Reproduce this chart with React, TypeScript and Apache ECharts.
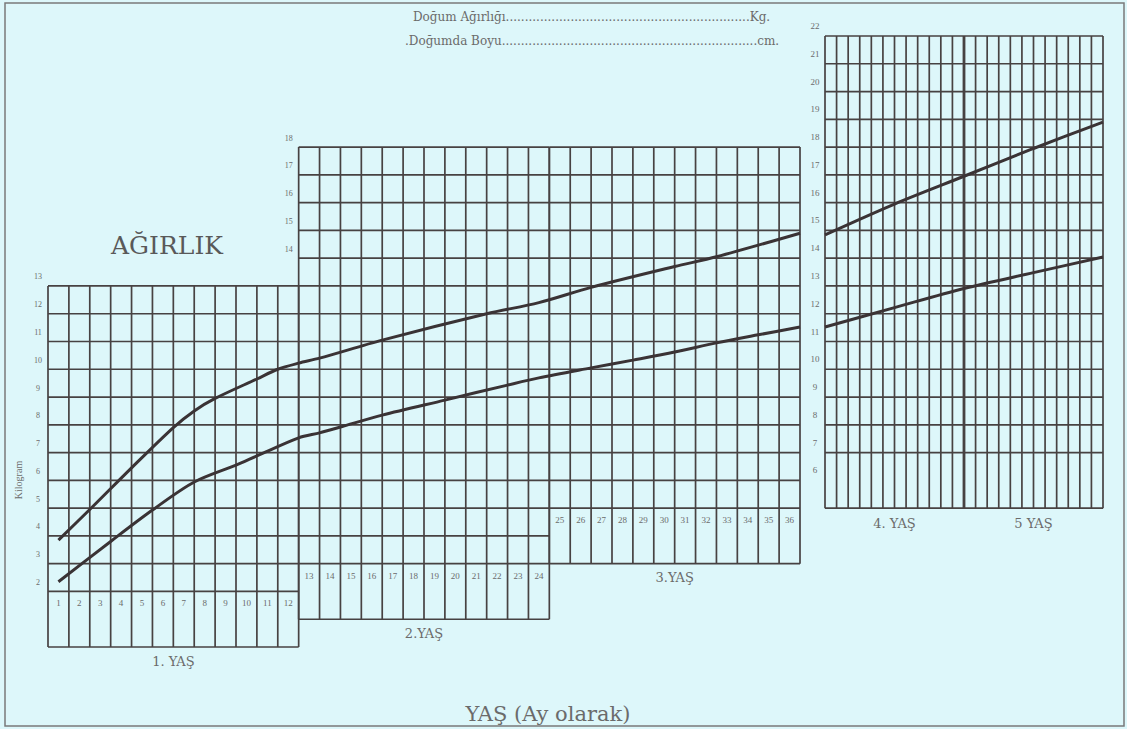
import React, { useEffect, useRef } from "react";
import * as echarts from "echarts";

// ---- data (months, kilograms) ----
const MONTH_LABELS = [
  "1", "2", "3", "4", "5", "6", "7", "8", "9", "10", "11", "12",
  "13", "14", "15", "16", "17", "18", "19", "20", "21", "22", "23", "24",
  "25", "26", "27", "28", "29", "30", "31", "32", "33", "34", "35", "36",
];
const YEAR_LABELS = ["1. YAŞ", "2.YAŞ", "3.YAŞ", "4. YAŞ", "5 YAŞ"];
const YEAR_START = [0, 12, 24, 36, 48];
const YEAR_END = [12, 24, 36, 48, 60];

// panels: month range, top kg, lowest gridded kg, bottom of label row (kg)
const PANEL_M0 = [0, 12, 24, 36];
const PANEL_M1 = [12, 24, 36, 60];
const PANEL_TOP = [13, 18, 18, 22];
const PANEL_GRID_BOTTOM = [2, 3, 5, 7];
const PANEL_BOTTOM = [0, 1, 3, 5];
const PANEL_AXIS = [0, 0, 0, 1];
const PANEL_HEAVY_MONTH = [-1, -1, -1, 48];

const KG_TICKS_1 = [2, 3, 4, 5, 6, 7, 8, 9, 10, 11, 12, 13];
const KG_TICKS_2 = [14, 15, 16, 17, 18];
const KG_TICKS_4 = [6, 7, 8, 9, 10, 11, 12, 13, 14, 15, 16, 17, 18, 19, 20, 21, 22];

// curves, months 0-36
const UPPER_MONTHS = [0.5, 2, 4, 6, 7, 8, 10, 11, 12, 13, 16, 21, 23.5, 26, 30, 32, 36];
const UPPER_KG = [3.85, 4.95, 6.45, 7.9, 8.5, 8.95, 9.65, 10.0, 10.22, 10.4, 11.05, 12.0, 12.4, 12.95, 13.7, 14.05, 14.9];
const LOWER_MONTHS = [0.5, 3, 5, 7, 9, 10, 12, 13, 14, 16, 19, 22, 23.5, 26, 28, 30, 32, 34, 36];
const LOWER_KG = [2.35, 3.8, 4.93, 5.94, 6.55, 6.88, 7.53, 7.71, 7.92, 8.35, 8.89, 9.43, 9.69, 10.05, 10.33, 10.62, 10.95, 11.24, 11.52];
// curves, months 36-60
const UPPER4_MONTHS = [36, 42, 48, 54, 60];
const UPPER4_KG = [14.84, 15.95, 16.95, 17.95, 18.9];
const LOWER4_MONTHS = [36, 42, 48, 54, 60];
const LOWER4_KG = [11.52, 12.22, 12.91, 13.48, 14.04];

const SERIF = "'Liberation Serif', 'DejaVu Serif', serif";
const WIDE_SERIF = "'DejaVu Serif', 'Liberation Serif', serif";
const GRID_COLOR = "#474242";
const CURVE_COLOR = "#3a3335";
const TEXT_COLOR = "#6b6b6b";
const BG = "#ddf7fa";

function zip(a: number[], b: number[]) {
  return a.map((v, i) => [v, b[i]]);
}

function segmentsFor(axis: number) {
  const segs: number[][] = [];
  PANEL_M0.forEach((m0, p) => {
    if (PANEL_AXIS[p] !== axis) return;
    const m1 = PANEL_M1[p];
    for (let m = m0; m <= m1; m++) {
      segs.push([m, PANEL_BOTTOM[p], m, PANEL_TOP[p], m === PANEL_HEAVY_MONTH[p] ? 1 : 0]);
    }
    for (let k = PANEL_GRID_BOTTOM[p]; k <= PANEL_TOP[p]; k++) {
      segs.push([m0, k, m1, k, 0]);
    }
    segs.push([m0, PANEL_BOTTOM[p], m1, PANEL_BOTTOM[p], 0]);
  });
  return segs;
}

function lineSeries(axis: number) {
  return {
    type: "custom",
    xAxisIndex: axis,
    yAxisIndex: axis,
    silent: true,
    z: 1,
    data: segmentsFor(axis),
    renderItem: (_params: any, api: any) => {
      const a = api.coord([api.value(0), api.value(1)]);
      const b = api.coord([api.value(2), api.value(3)]);
      return {
        type: "line",
        shape: { x1: a[0], y1: a[1], x2: b[0], y2: b[1] },
        style: { stroke: GRID_COLOR, lineWidth: api.value(4) ? 2.8 : 1.7 },
      };
    },
  };
}

function textSeries(
  axis: number,
  pts: number[][],
  texts: string[],
  dx: number,
  dy: number,
  size: number,
  family: string
) {
  return {
    type: "custom",
    xAxisIndex: axis,
    yAxisIndex: axis,
    silent: true,
    z: 3,
    data: pts,
    renderItem: (params: any, api: any) => {
      const c = api.coord([api.value(0), api.value(1)]);
      return {
        type: "text",
        x: c[0] + dx,
        y: c[1] + dy,
        style: {
          text: texts[params.dataIndex],
          fill: TEXT_COLOR,
          fontSize: size,
          fontFamily: family,
          align: "center",
          verticalAlign: "middle",
        },
      };
    },
  };
}

function curve(axis: number, months: number[], kg: number[]) {
  return {
    type: "line",
    xAxisIndex: axis,
    yAxisIndex: axis,
    data: zip(months, kg),
    symbol: "none",
    smooth: 0.3,
    z: 5,
    lineStyle: { color: CURVE_COLOR, width: 3 },
  };
}

export default function App() {
  const ref = useRef<HTMLDivElement>(null);
  useEffect(() => {
    if (!ref.current) return;
    const chart = echarts.init(ref.current, undefined, { renderer: "svg" });

    const monthPts: number[][] = [];
    const monthTexts: string[] = [];
    MONTH_LABELS.forEach((lab, i) => {
      const m = i + 1;
      const p = PANEL_M0.findIndex((m0, j) => m > m0 && m <= PANEL_M1[j]);
      monthPts.push([m - 0.5, PANEL_GRID_BOTTOM[p]]);
      monthTexts.push(lab);
    });

    const kg1Pts = KG_TICKS_1.map((k) => [PANEL_M0[0], k]);
    const kg2Pts = KG_TICKS_2.map((k) => [PANEL_M0[1], k]);
    const kg4Pts = KG_TICKS_4.map((k) => [PANEL_M0[3], k]);

    const yearPts0: number[][] = [];
    const yearTexts0: string[] = [];
    const yearPts1: number[][] = [];
    const yearTexts1: string[] = [];
    YEAR_LABELS.forEach((lab, i) => {
      const mid = (YEAR_START[i] + YEAR_END[i]) / 2;
      const p = PANEL_M0.findIndex((m0, j) => YEAR_START[i] >= m0 && YEAR_END[i] <= PANEL_M1[j]);
      if (PANEL_AXIS[p] === 0) {
        yearPts0.push([mid, PANEL_BOTTOM[p]]);
        yearTexts0.push(lab);
      } else {
        yearPts1.push([mid, PANEL_BOTTOM[p]]);
        yearTexts1.push(lab);
      }
    });

    const hiddenAxis = { show: false, splitLine: { show: false } };

    chart.setOption({
      animation: false,
      backgroundColor: BG,
      grid: [
        { left: 48, width: 752, top: 36, height: 611 },
        { left: 825, width: 278, top: 36, height: 611 },
      ],
      xAxis: [
        { type: "value", gridIndex: 0, min: 0, max: 36, ...hiddenAxis },
        { type: "value", gridIndex: 1, min: 36, max: 60, ...hiddenAxis },
      ],
      yAxis: [
        { type: "value", gridIndex: 0, min: 0, max: 22, ...hiddenAxis },
        { type: "value", gridIndex: 1, min: 0, max: 22, ...hiddenAxis },
      ],
      series: [
        lineSeries(0),
        lineSeries(1),
        textSeries(0, monthPts, monthTexts, 0, 12, 9, SERIF),
        textSeries(0, kg1Pts, KG_TICKS_1.map(String), -10, -9, 8, SERIF),
        textSeries(0, kg2Pts, KG_TICKS_2.map(String), -10, -9, 8, SERIF),
        textSeries(1, kg4Pts, KG_TICKS_4.map(String), -10, -10, 9, SERIF),
        textSeries(0, yearPts0, yearTexts0, 0, 14, 13, WIDE_SERIF),
        textSeries(1, yearPts1, yearTexts1, 0, 15, 13, WIDE_SERIF),
        curve(0, UPPER_MONTHS, UPPER_KG),
        curve(0, LOWER_MONTHS, LOWER_KG),
        curve(1, UPPER4_MONTHS, UPPER4_KG),
        curve(1, LOWER4_MONTHS, LOWER4_KG),
      ],
      graphic: [
        {
          type: "rect",
          shape: { x: 5, y: 3, width: 1119, height: 723 },
          style: { fill: "none", stroke: "#7a7a7a", lineWidth: 1.5 },
          silent: true,
        },
        {
          type: "text",
          x: 167,
          y: 245,
          style: {
            text: "AĞIRLIK",
            fill: "#595959",
            fontSize: 25,
            fontFamily: WIDE_SERIF,
            align: "center",
            verticalAlign: "middle",
          },
        },
        {
          type: "text",
          x: 18,
          y: 480,
          rotation: Math.PI / 2,
          style: {
            text: "Kilogram",
            fill: TEXT_COLOR,
            fontSize: 10,
            fontFamily: SERIF,
            align: "center",
            verticalAlign: "middle",
          },
        },
        {
          type: "text",
          x: 413,
          y: 17,
          style: {
            text: "Doğum Ağırlığı" + ".".repeat(64) + "Kg.",
            fill: TEXT_COLOR,
            fontSize: 12,
            fontFamily: WIDE_SERIF,
            align: "left",
            verticalAlign: "middle",
          },
        },
        {
          type: "text",
          x: 405,
          y: 41,
          style: {
            text: ".Doğumda Boyu" + ".".repeat(67) + "cm.",
            fill: TEXT_COLOR,
            fontSize: 12,
            fontFamily: WIDE_SERIF,
            align: "left",
            verticalAlign: "middle",
          },
        },
        {
          type: "text",
          x: 548,
          y: 714,
          style: {
            text: "YAŞ (Ay olarak)",
            fill: TEXT_COLOR,
            fontSize: 21,
            fontFamily: WIDE_SERIF,
            align: "center",
            verticalAlign: "middle",
          },
        },
      ],
    });
    return () => chart.dispose();
  }, []);

  return (
    <div
      ref={ref}
      style={{ position: "fixed", left: 0, top: 0, width: 1127, height: 729 }}
    />
  );
}
